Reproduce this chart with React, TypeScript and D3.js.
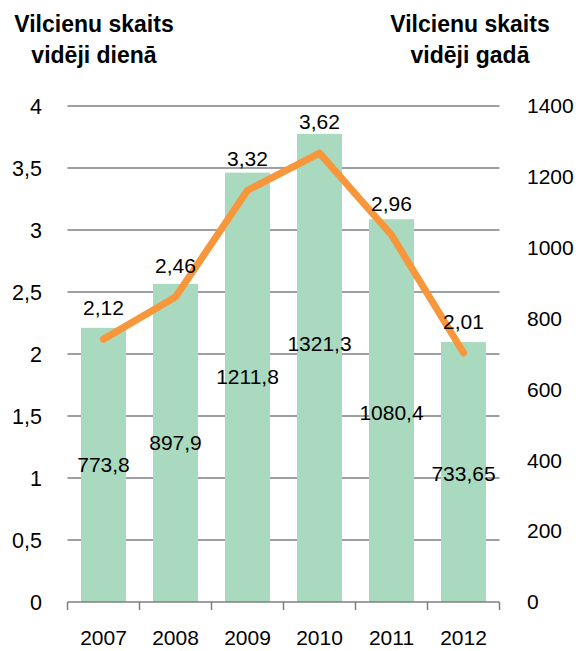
import React, { useEffect, useRef } from 'react';
import * as d3 from 'd3';

const years = ['2007', '2008', '2009', '2010', '2011', '2012'];
const trainsPerYear = [773.8, 897.9, 1211.8, 1321.3, 1080.4, 733.65];
const trainsPerDay = [2.12, 2.46, 3.32, 3.62, 2.96, 2.01];
const leftTicks = [0, 0.5, 1, 1.5, 2, 2.5, 3, 3.5, 4];
const rightTicks = [0, 200, 400, 600, 800, 1000, 1200, 1400];

const fmt = (v: number) => String(v).replace('.', ',');

const App = () => {
    const ref = useRef<SVGSVGElement | null>(null);

    useEffect(() => {
        const svg = d3.select(ref.current);
        svg.selectAll('*').remove();

        const width = 579;
        const height = 651;
        const left = 67.5;
        const right = 499.5;
        const top = 106;
        const bottom = 602;
        const font = 'Liberation Sans, Arial, Helvetica, sans-serif';

        const x = d3.scaleBand<string>()
            .domain(years)
            .range([left, right])
            .paddingInner(0.375)
            .paddingOuter(0.1875);

        const yLeft = d3.scaleLinear().domain([0, 4]).range([bottom, top]);
        const yRight = d3.scaleLinear().domain([0, 1400]).range([bottom, top]);

        svg.attr('width', width).attr('height', height);

        // titles
        const titles = [
            { cx: 94, lines: ['Vilcienu skaits', 'vidēji dienā'] },
            { cx: 470, lines: ['Vilcienu skaits', 'vidēji gadā'] },
        ];
        titles.forEach(t => {
            t.lines.forEach((line, i) => {
                svg.append('text')
                    .attr('x', t.cx)
                    .attr('y', 32 + i * 31)
                    .attr('text-anchor', 'middle')
                    .attr('font-family', font)
                    .attr('font-weight', 'bold')
                    .attr('font-size', 23)
                    .attr('fill', '#000')
                    .text(line);
            });
        });

        // grid lines
        svg.append('g')
            .selectAll('line')
            .data(leftTicks.filter(d => d > 0))
            .enter().append('line')
            .attr('x1', left)
            .attr('x2', right)
            .attr('y1', d => yLeft(d))
            .attr('y2', d => yLeft(d))
            .attr('stroke', '#7f7f7f')
            .attr('stroke-width', 1.3);

        // left ticks
        svg.append('g')
            .selectAll('text')
            .data(leftTicks)
            .enter().append('text')
            .attr('x', 42)
            .attr('y', d => yLeft(d))
            .attr('dy', '0.35em')
            .attr('text-anchor', 'end')
            .attr('font-family', font)
            .attr('font-size', 21.5)
            .text(d => fmt(d));

        // right ticks
        svg.append('g')
            .selectAll('text')
            .data(rightTicks)
            .enter().append('text')
            .attr('x', 527)
            .attr('y', d => yRight(d))
            .attr('dy', '0.35em')
            .attr('text-anchor', 'start')
            .attr('font-family', font)
            .attr('font-size', 21)
            .text(d => String(d));

        // bars
        svg.append('g')
            .selectAll('rect')
            .data(trainsPerYear)
            .enter().append('rect')
            .attr('x', (d, i) => x(years[i]) as number)
            .attr('width', x.bandwidth())
            .attr('y', d => yRight(d))
            .attr('height', d => bottom - yRight(d))
            .attr('fill', '#a9d9bf');

        // x axis
        svg.append('line')
            .attr('x1', left)
            .attr('x2', right)
            .attr('y1', bottom)
            .attr('y2', bottom)
            .attr('stroke', '#7f7f7f')
            .attr('stroke-width', 1.5);

        const step = x.step();
        svg.append('g')
            .selectAll('line')
            .data(d3.range(years.length + 1))
            .enter().append('line')
            .attr('x1', i => left + i * step)
            .attr('x2', i => left + i * step)
            .attr('y1', bottom)
            .attr('y2', bottom + 8)
            .attr('stroke', '#7f7f7f')
            .attr('stroke-width', 1.5);

        const cx = (i: number) => (x(years[i]) as number) + x.bandwidth() / 2;

        svg.append('g')
            .selectAll('text')
            .data(years)
            .enter().append('text')
            .attr('x', (d, i) => cx(i))
            .attr('y', 645)
            .attr('text-anchor', 'middle')
            .attr('font-family', font)
            .attr('font-size', 21)
            .text(d => d);

        // line
        const line = d3.line<number>()
            .x((d, i) => cx(i))
            .y(d => yLeft(d));

        svg.append('path')
            .datum(trainsPerDay)
            .attr('d', line)
            .attr('fill', 'none')
            .attr('stroke', '#f7963a')
            .attr('stroke-width', 7)
            .attr('stroke-linecap', 'round')
            .attr('stroke-linejoin', 'round');

        // bar labels (a few nudged up like in the original)
        const barLabelNudge = [0, 0, -11, -24, 2, 2];
        svg.append('g')
            .selectAll('text')
            .data(trainsPerYear)
            .enter().append('text')
            .attr('x', (d, i) => cx(i))
            .attr('y', (d, i) => (bottom + yRight(d)) / 2 + barLabelNudge[i])
            .attr('dy', '0.35em')
            .attr('text-anchor', 'middle')
            .attr('font-family', font)
            .attr('font-size', 21)
            .text(d => fmt(d));

        // line labels
        svg.append('g')
            .selectAll('text')
            .data(trainsPerDay)
            .enter().append('text')
            .attr('x', (d, i) => cx(i))
            .attr('y', d => yLeft(d) - 24)
            .attr('text-anchor', 'middle')
            .attr('font-family', font)
            .attr('font-size', 21)
            .text(d => fmt(d));
    }, []);

    return (
        <svg ref={ref} style={{ position: 'absolute', left: 0, top: 0, background: '#fff' }} />
    );
};

export default App;
